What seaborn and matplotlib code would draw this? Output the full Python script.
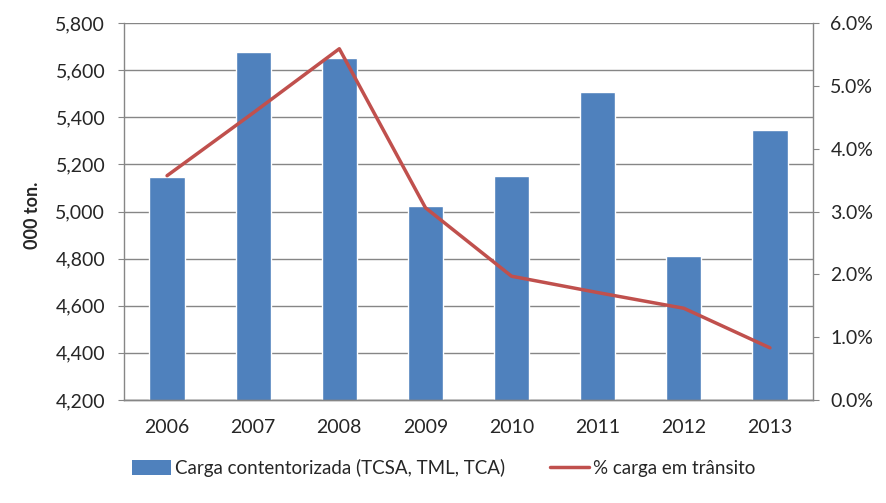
import pandas as pd
import matplotlib
matplotlib.use("Agg")
import matplotlib.pyplot as plt
import seaborn as sns
from matplotlib.ticker import FuncFormatter, PercentFormatter
from matplotlib.lines import Line2D
from matplotlib.patches import Patch

anos = ['2006', '2007', '2008', '2009', '2010', '2011', '2012', '2013']
carga = [5148, 5675, 5652, 5025, 5152, 5508, 4810, 5348]
transito = [3.57, 4.57, 5.59, 3.06, 1.97, 1.71, 1.46, 0.83]

BLUE = '#4F81BD'
RED = '#C0504D'
GRAY = '#868686'

sns.set_style("white")
plt.rcParams['font.family'] = ['Lato', 'DejaVu Sans']

df = pd.DataFrame({'ano': anos, 'carga': carga, 'transito': transito})

fig = plt.figure(figsize=(8.87, 5.03), dpi=100)
ax = fig.add_axes([124 / 887, 1 - 400 / 503, 689 / 887, 377 / 503])

sns.barplot(data=df, x='ano', y='carga', color=BLUE, width=0.41,
            saturation=1, ax=ax, zorder=2)
ax.set_ylim(4200, 5800)
ax.set_xlim(-0.5, 7.5)
ax.set_yticks(range(4200, 5801, 200))
ax.yaxis.set_major_formatter(FuncFormatter(lambda v, p: f'{int(v):,}'))
ax.grid(axis='y', color=GRAY, linewidth=1, zorder=0)
ax.set_axisbelow(True)
ax.set_xlabel('')
ax.set_ylabel('000 ton.', fontsize=13, fontweight='bold')
ax.yaxis.set_label_coords(-83 / 689, 0.49)

ax2 = ax.twinx()
sns.lineplot(data=df, x='ano', y='transito', color=RED, linewidth=2.5,
             ax=ax2, zorder=3)
ax2.set_ylim(0, 6)
ax2.set_yticks(range(0, 7))
ax2.yaxis.set_major_formatter(PercentFormatter(decimals=1))
ax2.set_ylabel('')
ax2.set_xlim(-0.5, 7.5)

for a in (ax, ax2):
    a.spines['top'].set_visible(False)
    for s in ('left', 'right', 'bottom'):
        a.spines[s].set_color(GRAY)
        a.spines[s].set_linewidth(1)
    a.tick_params(axis='y', length=4.5, color=GRAY, labelsize=14)
    a.tick_params(axis='x', length=0, labelsize=14, pad=14)
ax.tick_params(axis='y', right=False, pad=9)
ax2.tick_params(axis='y', left=False, right=True, pad=8)
ax.spines['right'].set_visible(False)
ax2.spines['left'].set_visible(False)

handles = [Patch(facecolor=BLUE, edgecolor='none'),
           Line2D([0], [0], color=RED, linewidth=2.5)]
labels = ['Carga contentorizada (TCSA, TML, TCA)', '% carga em trânsito']
fig.legend(handles, labels, loc='center', bbox_to_anchor=(0.5, 1 - 468 / 503),
           ncol=2, frameon=False, fontsize=13.5, handlelength=2.1,
           handleheight=0.9, columnspacing=2.4, handletextpad=0.2)

fig.savefig('out.png', dpi=100)
